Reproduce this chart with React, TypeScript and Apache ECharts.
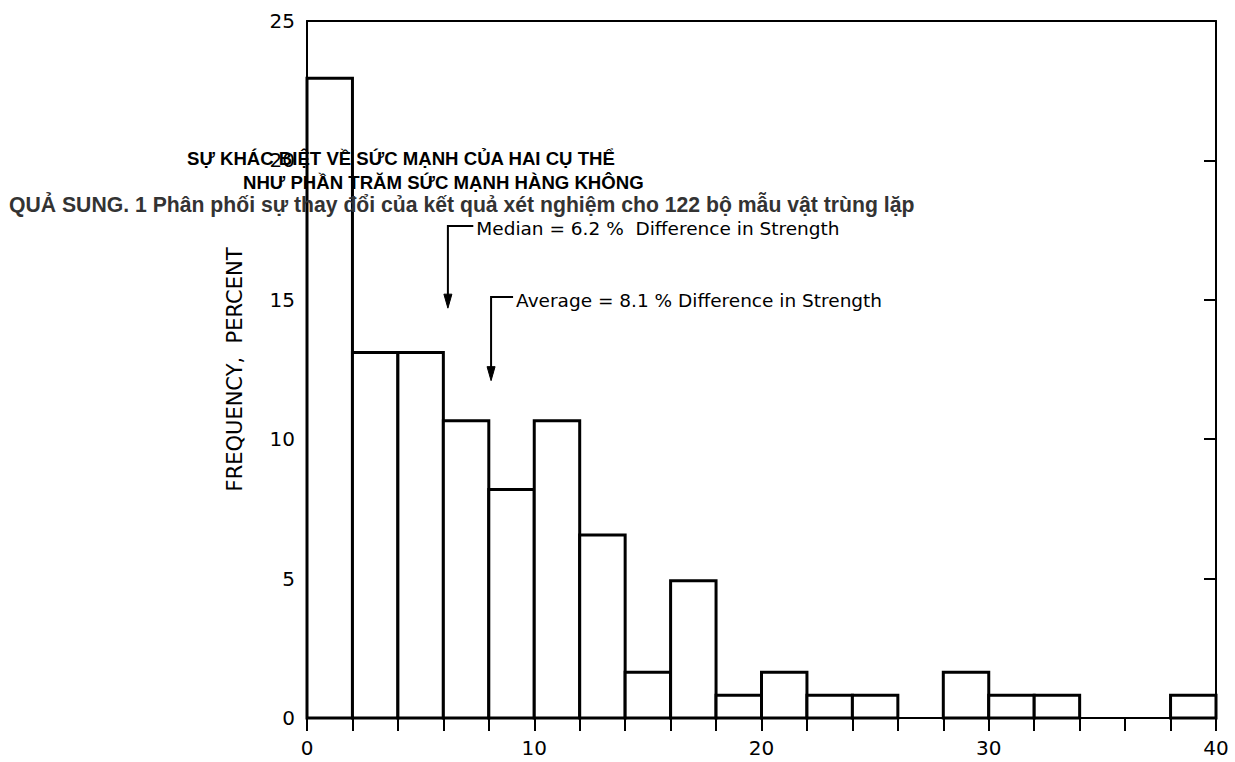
import React, { useEffect, useRef } from "react";
import * as echarts from "echarts";

// Histogram bins (percent difference in strength) and frequencies (percent)
const binStarts = [0, 2, 4, 6, 8, 10, 12, 14, 16, 18, 20, 22, 24, 26, 28, 30, 32, 34, 36, 38];
const binWidth = 2;
const frequencies = [22.95, 13.11, 13.11, 10.66, 8.2, 10.66, 6.56, 1.64, 4.92, 0.82, 1.64, 0.82, 0.82, 0, 1.64, 0.82, 0.82, 0, 0, 0.82];

const xTicks = [0, 10, 20, 30, 40];
const yTicks = [0, 5, 10, 15, 20, 25];

// Annotations: arrow x, leader top y, arrow tip y, text start x, label
const annotationArrowX = [6.2, 8.1];
const annotationTopY = [17.65, 15.1];
const annotationTipY = [14.7, 12.1];
const annotationTextX = [7.45, 9.2];
const annotationLabels = [
  "Median = 6.2 %  Difference in Strength",
  "Average = 8.1 % Difference in Strength",
];

const titleLines = [
  "SỰ KHÁC BIỆT VỀ SỨC MẠNH CỦA HAI CỤ THỂ",
  "NHƯ PHẦN TRĂM SỨC MẠNH HÀNG KHÔNG",
  "QUẢ SUNG. 1 Phân phối sự thay đổi của kết quả xét nghiệm cho 122 bộ mẫu vật trùng lặp",
];

const LETTER_FONT = "DejaVu Sans";

export default function App() {
  const ref = useRef<HTMLDivElement>(null);
  useEffect(() => {
    if (!ref.current) return;
    const chart = echarts.init(ref.current, undefined, { renderer: "svg" });
    const barData = binStarts.map((s, i) => [s, s + binWidth, frequencies[i]]);
    const annData = annotationArrowX.map((x, i) => [x, annotationTopY[i], annotationTipY[i], annotationTextX[i], i]);

    const axisLine = { show: true, onZero: false, lineStyle: { color: "#000", width: 2 } };

    chart.setOption({
      animation: false,
      backgroundColor: "#fff",
      grid: { left: 307, right: 19, top: 21, bottom: 44 },
      xAxis: [
        {
          type: "value",
          min: 0,
          max: 40,
          interval: 2,
          axisLine,
          splitLine: { show: false },
          axisTick: { show: true, inside: false, length: 13, lineStyle: { color: "#000", width: 2 } },
          axisLabel: {
            margin: 20,
            color: "#000",
            fontFamily: LETTER_FONT,
            fontSize: 20,
            formatter: (v: number) => (xTicks.indexOf(v) >= 0 ? String(v) : ""),
          },
        },
        {
          type: "value",
          position: "top",
          min: 0,
          max: 40,
          axisLine,
          splitLine: { show: false },
          axisTick: { show: false },
          axisLabel: { show: false },
        },
      ],
      yAxis: [
        {
          type: "value",
          min: 0,
          max: 25,
          interval: 5,
          axisLine,
          splitLine: { show: false },
          axisTick: { show: true, inside: true, length: 12, lineStyle: { color: "#000", width: 2 } },
          axisLabel: {
            margin: 12,
            color: "#000",
            fontFamily: LETTER_FONT,
            fontSize: 20,
            formatter: (v: number) => (yTicks.indexOf(v) >= 0 ? String(v) : ""),
          },
          name: "FREQUENCY,  PERCENT",
          nameLocation: "middle",
          nameGap: 62,
          nameTextStyle: { color: "#000", fontFamily: LETTER_FONT, fontSize: 21 },
        },
        {
          type: "value",
          position: "right",
          min: 0,
          max: 25,
          interval: 5,
          axisLine,
          splitLine: { show: false },
          axisTick: { show: true, inside: true, length: 12, lineStyle: { color: "#000", width: 2 } },
          axisLabel: { show: false },
        },
      ],
      series: [
        {
          type: "custom",
          xAxisIndex: 0,
          yAxisIndex: 0,
          data: barData,
          encode: { x: [0, 1], y: 2 },
          renderItem: (params: any, api: any) => {
            const v = api.value(2);
            if (!v) return null;
            const p0 = api.coord([api.value(0), v]);
            const p1 = api.coord([api.value(1), 0]);
            return {
              type: "rect",
              shape: { x: p0[0], y: p0[1], width: p1[0] - p0[0], height: p1[1] - p0[1] },
              style: { fill: "#fff", stroke: "#000", lineWidth: 3 },
            };
          },
          z: 2,
        },
        {
          type: "custom",
          xAxisIndex: 0,
          yAxisIndex: 0,
          data: annData,
          renderItem: (params: any, api: any) => {
            const top = api.coord([api.value(0), api.value(1)]);
            const tip = api.coord([api.value(0), api.value(2)]);
            const txt = api.coord([api.value(3), api.value(1)]);
            const idx = api.value(4);
            const aw = 4;
            const ah = 14;
            return {
              type: "group",
              children: [
                {
                  type: "polyline",
                  shape: { points: [[txt[0] - 3, top[1]], [top[0], top[1]], [tip[0], tip[1] - ah + 2]] },
                  style: { stroke: "#000", lineWidth: 2, fill: null },
                },
                {
                  type: "polygon",
                  shape: { points: [[tip[0] - aw, tip[1] - ah], [tip[0] + aw, tip[1] - ah], [tip[0], tip[1]]] },
                  style: { fill: "#000", stroke: "#000", lineWidth: 1 },
                },
                {
                  type: "text",
                  style: {
                    text: annotationLabels[idx],
                    x: txt[0],
                    y: top[1] + 3,
                    fill: "#000",
                    font: `18.5px "${LETTER_FONT}"`,
                    align: "left",
                    verticalAlign: "middle",
                  },
                },
              ],
            };
          },
          z: 3,
        },
      ],
      graphic: [
        {
          type: "text",
          left: 187,
          top: 149,
          z: 100,
          style: { text: titleLines[0], fill: "#000", font: 'bold 18.6px "Liberation Sans"' },
        },
        {
          type: "text",
          left: 243,
          top: 173,
          z: 100,
          style: { text: titleLines[1], fill: "#000", font: 'bold 18.6px "Liberation Sans"' },
        },
        {
          type: "text",
          left: 9,
          top: 194,
          z: 100,
          style: { text: titleLines[2], fill: "#333", font: 'bold 21.2px "Liberation Sans"' },
        },
      ],
    });
    return () => chart.dispose();
  }, []);
  return <div ref={ref} style={{ position: "fixed", left: 0, top: 0, width: 1235, height: 762 }} />;
}
